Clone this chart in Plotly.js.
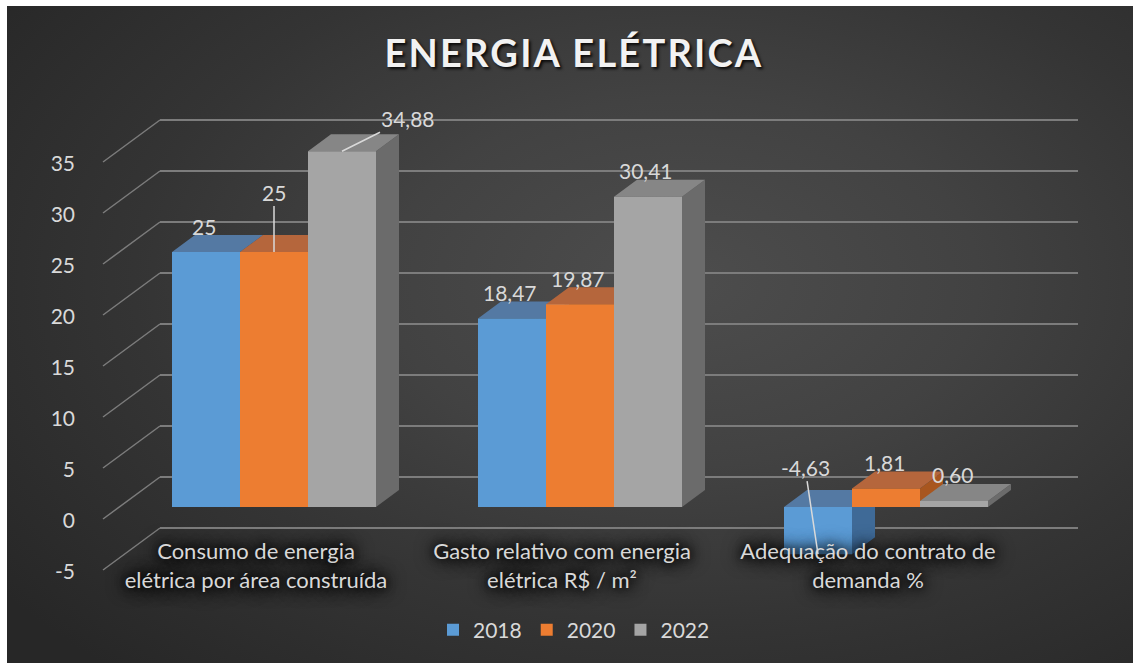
<!DOCTYPE html>
<html>
<head>
<meta charset="utf-8">
<script src="https://cdn.plot.ly/plotly-3.0.1.min.js"></script>
<style>
  html, body { margin: 0; padding: 0; background: #ffffff; }
  #chart {
    position: absolute; left: 7px; top: 6px; width: 1126px; height: 657px;
    background: radial-gradient(ellipse 75% 80% at 60% 42%, #4d4d4d 0%, #424242 35%, #343434 65%, #272727 100%);
  }
  .gtitle { letter-spacing: 2.2px; }
</style>
</head>
<body>
<div id="chart"></div>
<script>
// ---------- data ----------
const categories = [
  'Consumo de energia<br>elétrica por área construída',
  'Gasto relativo com energia<br>elétrica R$ / m²',
  'Adequação do contrato de<br>demanda %'
];
const seriesNames = ['2018', '2020', '2022'];
const values2018 = [25, 18.47, -4.63];
const values2020 = [25, 19.87, 1.81];
const values2022 = [34.88, 30.41, 0.60];
const yTickVals = [-5, 0, 5, 10, 15, 20, 25, 30, 35];
const yTickText = ['-5', '0', '5', '10', '15', '20', '25', '30', '35'];

// ---------- style ----------
const frontColors = ['#5b9bd5', '#ed7d31', '#a5a5a5'];
const topColors   = ['#5479a3', '#b5663c', '#868686'];
const sideColors  = ['#3f6a97', '#a8561f', '#6b6b6b'];
const textColor = '#d9d9d9';
const gridColor = '#7c7c7c';
const FONT = 'Lato, "Open Sans", sans-serif';

// geometry (pixels of the page)
const W = 1126, H = 657, OX = 7, OY = 6;
const PXU = 10.2;            // pixels per value unit
const FRONT0 = 507;          // bar fronts: value 0
const LABEL0 = 521;          // tick-label plane: value 0
const BACK0 = 477;           // back wall: value 0
const XL = 160, XR = 1078, CAT0 = 274, CATW = 306;
const DXPX = 23, DYPX = 17;  // depth offset of the 3D boxes
const px = x => (x - OX) / W;
const py = y => 1 - (y - OY) / H;
const rangeFor = zero => [-(OY + H - zero) / PXU, (zero - OY) / PXU];

const seriesValues = [values2018, values2020, values2022];
const nS = seriesValues.length;
const bargap = 1 / 3;
const bw = (1 - bargap) / nS;
const dx = DXPX / CATW, dy = DYPX / PXU;

function fmt(v) {
  return Number.isInteger(v) ? String(v) : v.toFixed(2).replace('.', ',');
}

const traces = [];
// 3D faces (drawn underneath the bar fronts)
seriesValues.forEach((vals, j) => {
  const sx = [], sy = [], tx = [], ty = [];
  vals.forEach((v, i) => {
    const x0 = i + (j - (nS - 1) / 2 - 0.5) * bw, x1 = x0 + bw;
    const lo = Math.min(0, v), hi = Math.max(0, v);
    sx.push(x1, x1, x1 + dx, x1 + dx, x1, null);
    sy.push(lo, hi, hi + dy, lo + dy, lo, null);
    tx.push(x0, x1, x1 + dx, x0 + dx, x0, null);
    ty.push(hi, hi, hi + dy, hi + dy, hi, null);
  });
  traces.push({type: 'scatter', x: sx, y: sy, mode: 'none', fill: 'toself',
    fillcolor: sideColors[j], showlegend: false, hoverinfo: 'skip', xaxis: 'x', yaxis: 'y'});
  traces.push({type: 'scatter', x: tx, y: ty, mode: 'none', fill: 'toself',
    fillcolor: topColors[j], showlegend: false, hoverinfo: 'skip', xaxis: 'x', yaxis: 'y'});
});
// bar fronts
seriesValues.forEach((vals, j) => {
  traces.push({type: 'bar', name: seriesNames[j], x: [0, 1, 2], y: vals,
    marker: {color: frontColors[j], line: {width: 0}}, xaxis: 'x', yaxis: 'y4', hoverinfo: 'skip'});
});
// dummy traces so the helper axes exist
traces.push({type: 'scatter', x: [null], y: [null], xaxis: 'x', yaxis: 'y2', showlegend: false, hoverinfo: 'skip'});
traces.push({type: 'scatter', x: [null], y: [null], xaxis: 'x', yaxis: 'y3', showlegend: false, hoverinfo: 'skip'});

// data labels
const labelStyle = [
  [{}, {}, {arrow: true, ax: -13, ay: -87, atValue: true}],
  [{arrow: true, ax: 0, ay: -60}, {}, {}],
  [{arrow: true, ax: 66, ay: -33}, {}, {}]
];
const annotations = [];
seriesValues.forEach((vals, j) => {
  vals.forEach((v, i) => {
    const xc = i + (j - (nS - 1) / 2) * bw;
    const st = labelStyle[j][i] || {};
    const base = {xref: 'x', yref: 'y', text: fmt(v),
      font: {family: FONT, size: 21, color: textColor}};
    if (st.arrow) {
      annotations.push(Object.assign(base, {x: xc, y: st.atValue ? v : Math.max(v, 0),
        showarrow: true, arrowhead: 0, arrowwidth: 1.5, arrowcolor: textColor,
        ax: st.ax, ay: st.ay, standoff: 0, startstandoff: 0}));
    } else {
      annotations.push(Object.assign(base, {x: xc, y: Math.max(v, 0), showarrow: false,
        yshift: 26, xshift: -2}));
    }
  });
});

// diagonal lines linking tick labels to the back wall
const shapes = yTickVals.map(v => ({
  type: 'line', layer: 'below', xref: 'paper', yref: 'y3',
  x0: px(103), y0: v - (LABEL0 - 2 - BACK0) / PXU, x1: px(XL), y1: v,
  line: {color: gridColor, width: 1.5}
}));

const layout = {
  width: W, height: H,
  margin: {l: 0, r: 0, t: 0, b: 0, pad: 0},
  paper_bgcolor: 'rgba(0,0,0,0)', plot_bgcolor: 'rgba(0,0,0,0)',
  hovermode: false,
  barmode: 'group', bargap: bargap, bargroupgap: 0,
  title: {text: 'ENERGIA ELÉTRICA', x: px(574), xanchor: 'center', xref: 'paper',
    y: py(54), yanchor: 'middle', yref: 'paper',
    font: {family: FONT, size: 38, weight: 'bold', color: '#f2f2f2',
      shadow: '2px 2px 3px rgba(0,0,0,0.85)'}},
  xaxis: {domain: [px(XL), px(XR)], range: [-(CAT0 - XL) / CATW, (XR - CAT0) / CATW],
    tickvals: [0, 1, 2], ticktext: categories, anchor: 'free', position: py(536),
    showgrid: false, zeroline: false, showline: false, ticks: '', ticklabelshift: -18,
    tickfont: {family: FONT, size: 22, color: textColor,
      shadow: '0px 0px 8px #000, 0px 0px 14px #000, 0px 0px 20px #000'}},
  yaxis: {domain: [0, 1], range: rangeFor(FRONT0), showgrid: false, zeroline: false,
    showticklabels: false, showline: false},
  yaxis2: {overlaying: 'y', range: rangeFor(LABEL0), anchor: 'free', position: px(75),
    side: 'left', tickvals: yTickVals, ticktext: yTickText, showgrid: false, zeroline: false,
    showline: false, ticks: '', tickfont: {family: FONT, size: 21, color: textColor}},
  yaxis3: {overlaying: 'y', range: rangeFor(BACK0), anchor: 'x', tickvals: yTickVals,
    showticklabels: false, showgrid: true, gridcolor: gridColor, gridwidth: 1.5,
    zeroline: false, showline: false},
  yaxis4: {overlaying: 'y', range: rangeFor(FRONT0), anchor: 'x', showgrid: false,
    zeroline: false, showticklabels: false, showline: false},
  legend: {orientation: 'h', x: px(574), xanchor: 'center', y: py(630), yanchor: 'middle',
    font: {family: FONT, size: 21, color: textColor}, bgcolor: 'rgba(0,0,0,0)'},
  annotations: annotations,
  shapes: shapes
};

Plotly.newPlot('chart', traces, layout, {displayModeBar: false, staticPlot: true});
</script>
</body>
</html>
